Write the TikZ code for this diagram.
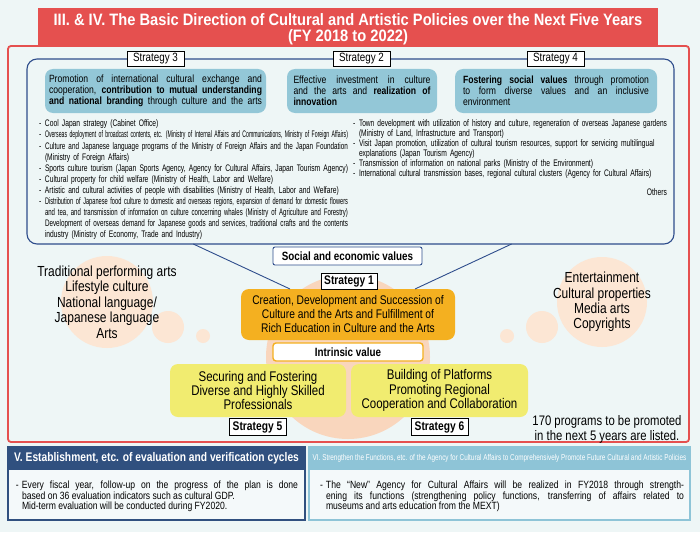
\documentclass[tikz,border=0pt]{standalone}
\usepackage{fontspec}
\usepackage{graphicx}
\setmainfont{Liberation Sans}
\newfontfamily\fc{Liberation Sans}[FakeStretch=0.82]
\newfontfamily\fcc{Liberation Sans}[FakeStretch=0.705]
\newfontfamily\ft{Liberation Sans}[FakeStretch=0.89]
\newfontfamily\fv{Liberation Sans}[FakeStretch=0.75]
\usetikzlibrary{calc}
\definecolor{bgc}{HTML}{EEF6F6}
\definecolor{redc}{HTML}{E5504F}
\definecolor{navy}{HTML}{2E4D8C}
\definecolor{sbox}{HTML}{93C7D7}
\definecolor{gold}{HTML}{F4B020}
\definecolor{yel}{HTML}{F1EC70}
\definecolor{peach}{HTML}{F9D6BD}
\definecolor{bubble}{HTML}{FCE6D4}
\definecolor{hdark}{HTML}{30507F}
\definecolor{hlight}{HTML}{8EC4D7}
\definecolor{bodybg}{HTML}{F4F9FA}
\newcommand\bitem[2]{\par\hangindent=6pt\hangafter=0\noindent\llap{\makebox[6pt][l]{#1}}#2\par}
\newlength\jw \newlength\jn
\newcommand\jline[1]{\settowidth\jn{#1}\ifdim\jn>\jw\resizebox{\jw}{\height}{#1}\else\makebox[\jw][s]{#1}\fi}
\newcommand\rline[1]{\settowidth\jn{#1}\ifdim\jn>\jw\resizebox{\jw}{\height}{#1}\else\mbox{#1}\fi}
\newcommand\bl[2]{\noindent\makebox[6pt][l]{#1}#2\par}
\begin{document}
\begin{tikzpicture}[x=1pt,y=-1pt,
  every node/.style={inner sep=0pt, outer sep=0pt},
  lbl/.style={draw=black, fill=white, line width=0.7pt, minimum width=57pt, minimum height=15pt, font=\fc\fontsize{12}{12}\selectfont},
  lblb/.style={lbl, minimum height=17pt, font=\fc\bfseries\fontsize{12.5}{12.5}\selectfont},
  sbx/.style={fill=sbox, rounded corners=8pt, minimum height=44pt},
  stxt/.style={font=\fc\fontsize{10.5}{11}\selectfont, align=justify},
  ybox/.style={fill=yel, rounded corners=8pt, minimum width=176pt, minimum height=53pt, align=center, font=\fc\fontsize{14}{14.2}\selectfont},
  bubl/.style={fill=bubble},
  bigtxt/.style={align=center, font=\fc\fontsize{14.6}{15.4}\selectfont},
  bullets/.style={anchor=north west, align=left},
  conn/.style={draw=navy, line width=0.9pt}
]
\useasboundingbox (0,0) rectangle (700,532);
\fill[bgc] (0,0) rectangle (700,532);
% main red frame
\node[draw=redc, line width=1.8pt, rounded corners=3pt, minimum width=681pt, minimum height=396pt] (frame) at (348.5,244) {};
\node[fill=redc, minimum width=620pt, minimum height=38pt] (title) at (348,27) {};
\node[align=center, text=white, font=\ft\bfseries\fontsize{16.5}{16}\selectfont] (titletxt) at (348,29.5)
  {III. \& IV. The Basic Direction of Cultural and Artistic Policies over the Next Five Years\\(FY 2018 to 2022)};
% blue container
\node[draw=navy, line width=1.1pt, rounded corners=10pt, minimum width=647pt, minimum height=185pt] (blue) at (350.5,151.5) {};
\node[lbl] (l3) at (155.5,58.5) {Strategy 3};
\node[lbl] (l2) at (361.5,58.5) {Strategy 2};
\node[lbl] (l4) at (555.5,58.5) {Strategy 4};
\node[sbx, minimum width=221pt] (s3) at (155.5,91) {};
\node[sbx, minimum width=150pt] (s2) at (362,91) {};
\node[sbx, minimum width=202pt] (s4) at (556,91) {};
\node[stxt, text width=213pt] (t3) at (s3.center)
  {\parfillskip=0pt Promotion of international cultural exchange and\linebreak cooperation, \textbf{contribution to mutual understanding}\linebreak \textbf{and national branding} through culture and the arts\par};
\node[stxt, text width=137pt] (t2) at (s2.center)
  {Effective investment in culture\linebreak and the arts and \textbf{realization of}\linebreak \textbf{innovation}};
\node[stxt, text width=186pt] (t4) at (s4.center)
  {\textbf{Fostering social values} through promotion\linebreak to form diverse values and an inclusive\linebreak environment};
% bullet lists
\node[bullets, text width=309pt, font=\fcc\fontsize{9.5}{11.1}\selectfont] (bl) at (39,120) {\setlength\jw{303pt}%
\bl{-}{\rline{Cool Japan strategy (Cabinet Office)}}%
\bl{-}{\jline{Overseas deployment of broadcast contents, etc. (Ministry of Internal Affairs and Communications, Ministry of Foreign Affairs)}}%
\bl{-}{\jline{Culture and Japanese language programs of the Ministry of Foreign Affairs and the Japan Foundation}}%
\bl{}{\rline{(Ministry of Foreign Affairs)}}%
\bl{-}{\rline{Sports culture tourism (Japan Sports Agency, Agency for Cultural Affairs, Japan Tourism Agency)}}%
\bl{-}{\rline{Cultural property for child welfare (Ministry of Health, Labor and Welfare)}}%
\bl{-}{\rline{Artistic and cultural activities of people with disabilities (Ministry of Health, Labor and Welfare)}}%
\bl{-}{\jline{Distribution of Japanese food culture to domestic and overseas regions, expansion of demand for domestic flowers}}%
\bl{}{\rline{and tea, and transmission of information on culture concerning whales (Ministry of Agriculture and Forestry)}}%
\bl{}{\jline{Development of overseas demand for Japanese goods and services, traditional crafts and the contents}}%
\bl{}{\rline{industry (Ministry of Economy, Trade and Industry)}}%
};
\node[bullets, text width=314pt, font=\fcc\fontsize{9.5}{10}\selectfont] (br) at (353,120) {\setlength\jw{308pt}%
\bl{-}{\jline{Town development with utilization of history and culture, regeneration of overseas Japanese gardens}}%
\bl{}{\rline{(Ministry of Land, Infrastructure and Transport)}}%
\bl{-}{\jline{Visit Japan promotion, utilization of cultural tourism resources, support for servicing multilingual}}%
\bl{}{\rline{explanations (Japan Tourism Agency)}}%
\bl{-}{\rline{Transmission of information on national parks (Ministry of the Environment)}}%
\bl{-}{\rline{International cultural transmission bases, regional cultural clusters (Agency for Cultural Affairs)}}%
\vspace{9pt}\noindent\hfill Others\par
};
% bubbles
\fill[bubl] (107,302) circle[radius=46];
\fill[bubl] (168,327) circle[radius=16];
\fill[bubl] (203,336) circle[radius=7];
\fill[bubl] (602,302) circle[radius=45];
\fill[bubl] (542,327) circle[radius=16];
\fill[bubl] (507,336) circle[radius=7];
\node[bigtxt] (lefttxt) at (107,302) {Traditional performing arts\\Lifestyle culture\\National language/\\Japanese language\\Arts};
\node[bigtxt] (righttxt) at (602,302) {Entertainment\\Cultural properties\\Media arts\\Copyrights};
% central circle
\node[circle, fill=peach, minimum size=164pt] (core) at (348,357) {};
\node[fill=gold, rounded corners=8pt, minimum width=214pt, minimum height=51pt, align=center,
      font=\fc\fontsize{12.5}{14}\selectfont] (creation) at (348,314.5)
  {Creation, Development and Succession of\\Culture and the Arts and Fulfillment of\\Rich Education in Culture and the Arts};
\node[lblb, minimum width=56pt, minimum height=16pt] (l1) at (349,281) {Strategy 1};
\path[conn] ($(blue.south west)!0.257!(blue.south east)$) -- ($(creation.north west)!0.229!(creation.north east)$);
\path[conn] ($(blue.south west)!0.749!(blue.south east)$) -- ($(creation.north west)!0.813!(creation.north east)$);
\node[draw=navy, fill=white, line width=0.9pt, rounded corners=2pt, minimum width=149pt, minimum height=18pt,
      font=\fc\bfseries\fontsize{12}{12}\selectfont] (social) at (347.5,256) {Social and economic values};
\node[draw=gold, fill=white, line width=1.4pt, rounded corners=3pt, minimum width=150pt, minimum height=18pt,
      font=\fc\bfseries\fontsize{12}{12}\selectfont] (intrinsic) at (348,352) {Intrinsic value};
\node[ybox] (s5) at (258,390.5) {Securing and Fostering\\Diverse and Highly Skilled\\Professionals};
\node[ybox, minimum width=177pt] (s6) at (439.5,390.5) {Building of Platforms\\Promoting Regional\\Cooperation and Collaboration};
\node[lblb] (l5) at (257.5,427) {Strategy 5};
\node[lblb] (l6) at (439.5,427) {Strategy 6};
\node[align=center, font=\fc\fontsize{13.8}{15}\selectfont] (note) at (607,429)
  {170 programs to be promoted\\in the next 5 years are listed.};
% bottom boxes
\node[draw=hdark, fill=bodybg, line width=1.5pt, minimum width=297pt, minimum height=73pt] (vbox) at (156.5,483.5) {};
\node[fill=hdark, minimum width=297pt, minimum height=23pt, text=white,
      font=\fc\bfseries\fontsize{12.5}{12.5}\selectfont] (vhead) at (156.5,458.5)
  {V. Establishment, etc. of evaluation and verification cycles};
\node[anchor=north west, text width=282pt, align=justify, font=\fc\fontsize{10.5}{10.5}\selectfont] (vtxt) at (16,478)
  {\bitem{-}{Every fiscal year, follow-up on the progress of the plan is done\linebreak based on 36 evaluation indicators such as cultural GDP.\newline Mid-term evaluation will be conducted during FY2020.}};
\node[draw=hlight, fill=bodybg, line width=1.5pt, minimum width=381pt, minimum height=73pt] (vibox) at (499.5,483.5) {};
\node[fill=hlight, minimum width=381pt, minimum height=23pt, text=white,
      font=\fv\fontsize{8.5}{8.5}\selectfont] (vihead) at (499.5,458.5)
  {VI. Strengthen the Functions, etc. of the Agency for Cultural Affairs to Comprehensively Promote Future Cultural and Artistic Policies};
\node[anchor=north west, text width=364pt, align=justify, font=\fc\fontsize{10.5}{10.5}\selectfont] (vitxt) at (320,478)
  {\hyphenpenalty=10000\relax\bitem{-}{The “New” Agency for Cultural Affairs will be realized in FY2018 through strength-\linebreak ening its functions (strengthening policy functions, transferring of affairs related to\linebreak museums and arts education from the MEXT)}};
\end{tikzpicture}
\end{document}
